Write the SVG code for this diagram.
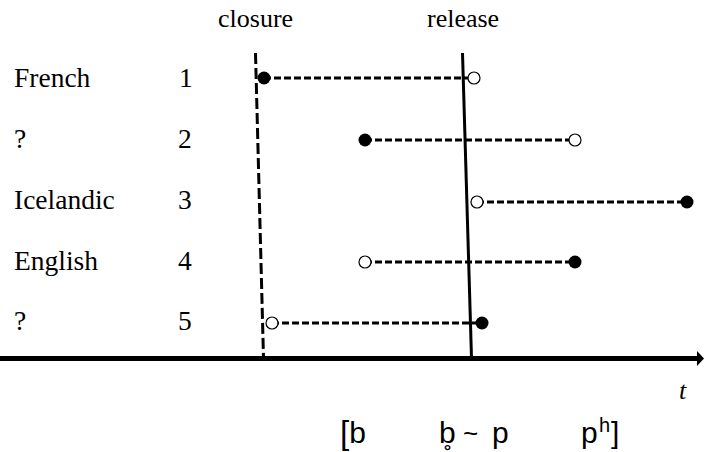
<svg xmlns="http://www.w3.org/2000/svg" width="704" height="452" viewBox="0 0 704 452">
  <style>
    .hd { font-family: "Liberation Serif", "Times New Roman", serif; font-size: 26px; fill: #000; }
    .lbl { font-family: "Liberation Serif", "Times New Roman", serif; font-size: 27.5px; fill: #000; }
    .ipa { font-family: "Liberation Sans", Arial, sans-serif; font-size: 30px; fill: #000; }
    .span { stroke: #000; stroke-width: 3; stroke-dasharray: 7 3; fill: none; }
    .on { fill: #000; }
    .off { fill: #fff; stroke: #000; stroke-width: 1.2; }
  </style>
  <rect width="704" height="452" fill="#fff"/>

  <!-- column headings -->
  <text class="hd" x="218" y="27">closure</text>
  <text class="hd" x="427" y="27">release</text>

  <!-- time axis and event boundaries -->
  <g id="axes">
    <line x1="0" y1="358.5" x2="697" y2="358.5" stroke="#000" stroke-width="5"/>
    <path d="M697,351 L704,358.5 L697,366 z" fill="#000"/>
    <line x1="255.5" y1="53" x2="263.5" y2="358" stroke="#000" stroke-width="3" stroke-dasharray="11 4"/>
    <line x1="462.5" y1="53" x2="471.5" y2="358" stroke="#000" stroke-width="3"/>
    <text x="679" y="399" font-family="Liberation Serif, serif" font-style="italic" font-size="26">t</text>
  </g>

  <!-- row connectors -->
  <g id="connectors">
    <line class="span" x1="264" y1="78" x2="474" y2="78"/>
    <line class="span" x1="365" y1="140" x2="575" y2="140"/>
    <line class="span" x1="477" y1="202" x2="687" y2="202"/>
    <line class="span" x1="365" y1="262" x2="575" y2="262"/>
    <line class="span" x1="272" y1="323" x2="482" y2="323"/>
  </g>

  <g id="row1">
    <text class="lbl" x="14" y="87">French</text>
    <text class="lbl" x="179" y="87">1</text>
    <circle class="on" cx="264" cy="78" r="6.5"/>
    <circle class="off" cx="474" cy="78" r="6"/>
  </g>
  <g id="row2">
    <text class="lbl" x="14" y="148">?</text>
    <text class="lbl" x="178" y="148">2</text>
    <circle class="on" cx="365" cy="140" r="6.5"/>
    <circle class="off" cx="575" cy="140" r="6"/>
  </g>
  <g id="row3">
    <text class="lbl" x="14" y="209">Icelandic</text>
    <text class="lbl" x="178" y="209">3</text>
    <circle class="off" cx="477" cy="202" r="6"/>
    <circle class="on" cx="687" cy="202" r="6.5"/>
  </g>
  <g id="row4">
    <text class="lbl" x="14" y="270">English</text>
    <text class="lbl" x="178" y="270">4</text>
    <circle class="off" cx="365" cy="262" r="6"/>
    <circle class="on" cx="575" cy="262" r="6.5"/>
  </g>
  <g id="row5">
    <text class="lbl" x="14" y="330">?</text>
    <text class="lbl" x="178" y="330">5</text>
    <circle class="off" cx="272" cy="323" r="6"/>
    <circle class="on" cx="482" cy="323" r="6.5"/>
  </g>

  <!-- phonetic continuum -->
  <g id="continuum">
    <text class="ipa" x="340" y="443"><tspan font-size="33" dy="1">[</tspan><tspan dy="-1">b</tspan></text>
    <text class="ipa" x="439" y="443">b̥<tspan x="463" font-size="26" dy="-1">~</tspan><tspan x="492" dy="1">p</tspan></text>
    <text class="ipa" x="581" y="443">p<tspan x="599" font-size="20" dy="-11">h</tspan><tspan x="611" dy="11">]</tspan></text>
  </g>
</svg>
